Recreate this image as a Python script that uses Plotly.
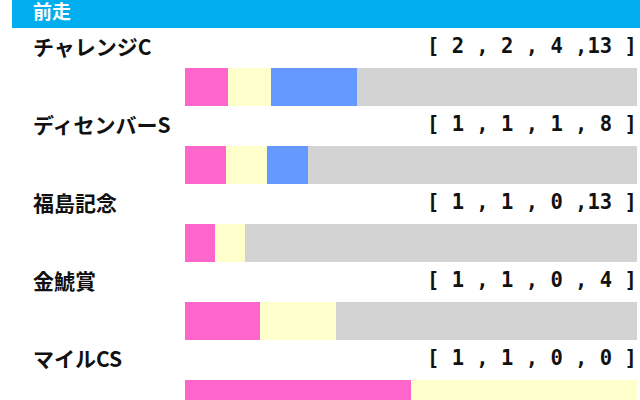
import plotly.graph_objects as go

races = ["チャレンジC", "ディセンバーS", "福島記念", "金鯱賞", "マイルCS"]
first = [2, 1, 1, 1, 1]
second = [2, 1, 1, 1, 1]
third = [4, 1, 0, 0, 0]
other = [13, 8, 13, 4, 0]
header = "前走"

colors = ["#FF66CC", "#FFFFCC", "#6699FF", "#D3D3D3"]
series = [first, second, third, other]

fig = go.Figure()
for vals, col in zip(series, colors):
    fig.add_trace(go.Bar(
        y=races, x=vals, orientation="h", marker=dict(color=col, line=dict(width=0)),
        width=0.49, hoverinfo="skip", showlegend=False,
    ))

annotations = []
for i, r in enumerate(races):
    annotations.append(dict(
        x=0, xref="paper", y=r, yref="y", yshift=41, xshift=31,
        text="<b>%s</b>" % r, showarrow=False, xanchor="left", yanchor="middle",
        font=dict(family="Noto Sans CJK JP", size=21, color="#111111"),
    ))
    rec = "[%2d ,%2d ,%2d ,%2d ]" % (first[i], second[i], third[i], other[i])
    annotations.append(dict(
        x=1, xref="paper", y=r, yref="y", yshift=41, xshift=-1,
        text="<b>%s</b>" % rec.replace(" ", "&nbsp;"), showarrow=False,
        xanchor="right", yanchor="middle",
        font=dict(family="DejaVu Sans Mono", size=20.5, color="#111111"),
    ))

annotations.append(dict(
    x=31 / 640, xref="paper", y=1 - 11 / 400, yref="paper",
    text="<b>%s</b>" % header, showarrow=False, xanchor="left", yanchor="middle",
    font=dict(family="Noto Sans CJK JP", size=19, color="#FFFFFF"),
))

fig.update_layout(
    width=640, height=400,
    margin=dict(l=0, r=0, t=0, b=0),
    paper_bgcolor="white", plot_bgcolor="white",
    barmode="stack", barnorm="percent",
    xaxis=dict(range=[-40.93, 100.66], visible=False, fixedrange=True),
    yaxis=dict(range=[4.018, -1.117], visible=False, fixedrange=True),
    shapes=[dict(type="rect", xref="paper", yref="paper", x0=12 / 640, x1=1,
                 y0=1 - 28 / 400, y1=1.0, fillcolor="#00AEEF", line=dict(width=0),
                 layer="below")],
    annotations=annotations,
)

fig.write_html(
    "out.html",
    config={"displayModeBar": False},
    post_script="document.body.style.margin='0';document.body.style.overflow='hidden';",
)
